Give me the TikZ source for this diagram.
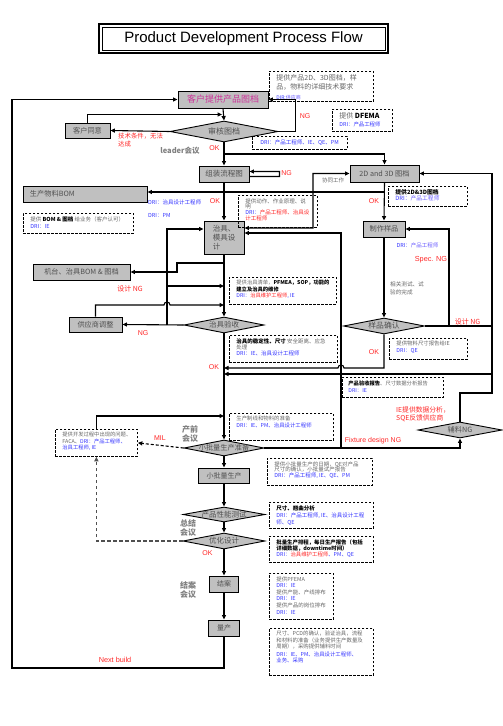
\documentclass[tikz,border=0pt]{standalone}
\usepackage{fontspec}
\setmainfont{Noto Sans CJK SC}
\newfontfamily\arialf{Liberation Sans}
\usetikzlibrary{shapes.geometric,arrows.meta,calc}
\definecolor{boxgray}{HTML}{C0C0C0}
\definecolor{boxtext}{HTML}{505050}
\definecolor{mag}{HTML}{CC3399}
\definecolor{rd}{HTML}{FF2626}
\definecolor{bl}{HTML}{3333FF}
\definecolor{blp}{HTML}{6A5CFF}
\definecolor{gtext}{HTML}{666666}
\definecolor{meet}{HTML}{808080}
\definecolor{dgray}{HTML}{505050}
\newcommand\fsz[2]{\fontsize{#1bp}{#2bp}\selectfont}
\newcommand\xblu[1]{\textcolor{bl}{#1}}
\newcommand\xbld[1]{\textbf{\textcolor{black}{#1}}}
\newcommand\xrd[1]{\textcolor{rd}{#1}}
\newcommand\dtxt[3]{\parbox[b][#2bp][t]{#1bp}{#3}}
\tikzset{
  conn/.style={line width=1.1bp, draw=black},
  arr/.style={conn, -{Triangle[length=4.5bp,width=4bp]}},
  dblarr/.style={conn, {Triangle[length=4.5bp,width=4bp]}-{Triangle[length=4.5bp,width=4bp]}},
  box/.style={draw=black, line width=0.9bp, fill=boxgray, inner sep=0pt, text=boxtext, font=\fsz{7.5}{9}},
  dia/.style={diamond, draw=black, line width=0.9bp, fill=boxgray, inner sep=0pt},
  dlab/.style={text=boxtext, font=\fsz{7.5}{9}, inner sep=0pt},
  dbox/.style={draw=black, dash pattern=on 2.5bp off 1.5bp, line width=0.8bp, inner xsep=7bp, inner ysep=3bp, anchor=north west, text=gtext, font=\fsz{5.5}{6.3}},
  redlbl/.style={text=rd, font=\arialf\fsz{7}{8}, inner sep=0pt},
  redcn/.style={text=rd, font=\fsz{6.8}{8}, inner sep=0pt, align=left},
  meetlbl/.style={text=meet, font=\bfseries\fsz{7.5}{9}, inner sep=0pt, align=center},
  smlbl/.style={inner sep=0pt, font=\fsz{5.5}{6.5}},
}
\begin{document}
\begin{tikzpicture}[x=1bp,y=-1bp]
\useasboundingbox (0,0) rectangle (503,726);

% title
\node[draw, line width=2.5bp, minimum width=289bp, minimum height=29bp, inner sep=0pt] (titleo) at (243.5,38.5) {};
\node[draw, line width=0.8bp, minimum width=283bp, minimum height=23bp, inner sep=0pt, font=\arialf\fsz{15}{18}] (title) at (243.5,38.5) {Product Development Process Flow};

% main boxes
\node[box, minimum width=90bp, minimum height=17bp, text=mag, font=\fsz{9}{10}] (cust) at (223,99.5) {客户提供产品图档};
\node[box, minimum width=45bp, minimum height=15bp, font=\fsz{7.2}{9}] (agree) at (87.5,130.5) {客户同意};
\node[dia, minimum width=108bp, minimum height=21bp, label={[dlab, font=\fsz{8}{9}]center:审核图档}] (shen) at (224,131.5) {};
\node[box, minimum width=50bp, minimum height=16bp] (asm) at (224,174) {组装流程图};
\node[box, minimum width=124bp, minimum height=16bp, text width=110bp, align=left, font=\fsz{7.2}{9}] (bom) at (85,194) {生产物料BOM};
\node[box, minimum width=40bp, minimum height=33bp, align=left, font=\fsz{7.5}{9.3}] (jig) at (224,237.5) {治具、\\模具设\\计};
\node[box, minimum width=69bp, minimum height=17bp, font=\fsz{7.2}{9}] (dd) at (384.5,173.5) {2D and 3D 图档};
\node[box, minimum width=42bp, minimum height=16bp, font=\fsz{7.2}{9}] (mk) at (384,229) {制作样品};
\node[dia, minimum width=81bp, minimum height=16bp, label={[dlab, font=\fsz{7.8}{9}]center:样品确认}] (yp) at (384,326) {};
\node[box, minimum width=97bp, minimum height=16bp, font=\fsz{7.2}{9}] (mach) at (81.5,272) {机台、治具BOM \& 图档};
\node[box, minimum width=53bp, minimum height=15bp, font=\fsz{7.2}{9}] (sup) at (95.5,324.5) {供应商调整};
\node[dia, minimum width=80bp, minimum height=16bp, label={[dlab]center:治具验收}] (acc) at (224,325) {};
\node[dia, minimum width=80bp, minimum height=16bp, label={[dlab, font=\fsz{7.2}{9}]center:小批量生产准备}] (xb) at (224,448) {};
\node[dia, minimum width=84bp, minimum height=16bp, label={[dlab, font=\fsz{7.2}{9}]center:辅料NG}] (fl) at (460,430) {};
\node[box, minimum width=51bp, minimum height=15bp, font=\fsz{7}{9}] (sb) at (224,475.5) {小批量生产};
\node[dia, minimum width=82bp, minimum height=15bp, label={[dlab]center:产品性能测试}] (perf) at (224,514.5) {};
\node[dia, minimum width=82bp, minimum height=16bp, label={[dlab]center:优化设计}] (opt) at (224,541) {};
\node[box, minimum width=29bp, minimum height=16bp, font=\fsz{7}{9}] (close) at (224,584) {结案};
\node[box, minimum width=31bp, minimum height=16bp, font=\fsz{7}{9}] (mass) at (224,628) {量产};

% dashed note boxes
\node[dbox, font=\fsz{7}{9.5}] (n1) at (269,71) {\dtxt{90}{24}{提供产品2D、3D图档，样\\品，物料的详细技术要求\\{\fsz{5}{9.5}\xblu{DIR:}\textcolor{blp}{供应商}}}};
\node[dbox, font=\fsz{7}{8}] (n2) at (332,109) {\dtxt{46}{16}{提供 \xbld{DFEMA}\\{\fsz{5.4}{8}\xblu{DRI：产品工程师}}}};
\node[dbox, inner xsep=8bp] (n3) at (252,136) {\dtxt{79}{7}{\xblu{DRI：产品工程师、IE、QE、PM}}};
\node[dbox, font=\fsz{5.5}{7}] (n4) at (23,213) {\dtxt{96}{14}{提供 \xbld{BOM \& 图档} 给业务（客户认可）\\\xblu{DRI：IE}}};
\node[dbox, font=\fsz{5.5}{5.8}] (n5) at (238,195) {\dtxt{65}{26}{提供动作、作业原理、说\\明\\\xblu{DRI：}\xrd{产品工程师、治具设}\\\xrd{计工程师}}};
\node[dbox, font=\fsz{5.8}{6.5}] (n6) at (388,186) {\dtxt{65}{14}{\xbld{提供2D\&3D图档}\\\xblu{DRI：}\textcolor{blp}{产品工程师}}};
\node[dbox, font=\fsz{5.3}{6.5}] (n7) at (229,277) {\dtxt{93}{21}{提供治具清单，\xbld{PFMEA，SOP，功能的}\\\xbld{建立及治具的维修}\\\xblu{DRI：}\xrd{治具维护工程师}\xblu{, IE}}};
\node[dbox, font=\fsz{5.5}{6.3}] (n8) at (229,335) {\dtxt{94}{21}{\xbld{治具的稳定性、尺寸} 安全距离、应急\\处理\\\xblu{DRI：IE、治具设计工程师}}};
\node[dbox, font=\fsz{5.4}{6.7}] (n9) at (389,338) {\dtxt{64}{15}{提供物料尺寸报告给IE\\\xblu{DRI：QE}}};
\node[dbox, inner xsep=6bp, font=\fsz{5.3}{7.4}] (n10) at (342,377) {\dtxt{89}{14}{\xbld{产品验收报告}、尺寸数据分析报告\\\xblu{DRI：IE}}};
\node[dbox, font=\fsz{5.4}{7}] (n11) at (229,413) {\dtxt{90}{21}{生产制线和物料的准备\\\xblu{DRI：IE、PM、治具设计工程师}}};
\node[dbox, font=\fsz{5.3}{6.5}] (n12) at (55,429) {\dtxt{68}{21}{提供开发过程中出现的问题、\\FACA、\xblu{DRI：产品工程师、}\\\xblu{治具工程师, IE}}};
\node[dbox, font=\fsz{5.5}{5.9}] (n13) at (267,458) {\dtxt{91}{21}{提供小批量生产的日期，QE对产品\\尺寸的确认，小批量试产报告\\\xblu{DRI：产品工程师, IE、QE、PM}}};
\node[dbox, font=\fsz{5.5}{7}] (n14) at (269,502) {\dtxt{90}{20}{\xbld{尺寸、翘曲分析}\\\xblu{DRI：产品工程师, IE、治具设计工程}\\\xblu{师、QE}}};
\node[dbox, font=\fsz{5.4}{6}] (n15) at (269,536) {\dtxt{90}{20}{\xbld{批量生产排程，每日生产报告（包括}\\\xbld{详细数据，downtime时间）}\\\xblu{DRI：}\xrd{治具维护工程师}\xblu{、PM、QE}}};
\node[dbox, font=\fsz{5.5}{6.6}] (n16) at (269,573) {\dtxt{50}{40}{提供PFEMA\\\xblu{DRI：IE}\\提供产能、产线排布\\\xblu{DRI：IE}\\提供产品的岗位排布\\\xblu{DRI：IE}}};
\node[dbox, font=\fsz{5.4}{6.2}] (n17) at (269,628) {\dtxt{90}{41}{尺寸、PCD的确认，验证治具，流程\\和材料的准备（业务提供生产数量及\\周期），采购提供辅料时间\\[1.5bp]\xblu{DRI：IE、PM、治具设计工程师、}\\\xblu{业务、采购}}};

% labels
\node[redlbl] (lng1) at (305,116) {NG};
\node[redcn, anchor=north west, font=\fsz{6.4}{8.3}] (ltech) at (118,133) {技术条件，无法\\达成};
\node[meetlbl] (lleader) at (180,151) {leader会议};
\node[redlbl] (lok1) at (214.5,148) {OK};
\node[redlbl] (lng2) at (286.5,173.5) {NG};
\node[smlbl, anchor=west, text=bl] (ldri1) at (148,202) {DRI：治具设计工程师};
\node[smlbl, anchor=west, text=bl] (ldri2) at (148,215) {DRI：PM};
\node[redlbl] (lok2) at (215,201) {OK};
\node[smlbl, text=gtext] (lxt) at (333,180.5) {协同工作};
\node[redlbl] (lok3) at (374,201) {OK};
\node[smlbl, text=bl] (ldri3) at (417.5,245) {DRI：\textcolor{blp}{产品工程师}};
\node[redlbl, font=\arialf\fsz{7.3}{8}] (lspec) at (431,260) {Spec. NG};
\node[smlbl, text=gtext, anchor=north west, align=left, font=\fsz{5.6}{8}] (ltest) at (390,282) {相关测试、试\\验的完成};
\node[redcn, font=\fsz{7}{8}] (lsng1) at (467.5,321.5) {设计 NG};
\node[redcn, font=\fsz{7}{8}] (lsng2) at (130,289) {设计 NG};
\node[redlbl] (lng3) at (143,333) {NG};
\node[redlbl] (lok4) at (214,367) {OK};
\node[redlbl] (lok5) at (374,352) {OK};
\node[redcn, anchor=north west, font=\fsz{6.8}{8}] (lie) at (396,407) {IE提供数据分析，\\SQE反馈供应商};
\node[redlbl] (lfix) at (373,441) {Fixture design NG};
\node[meetlbl, font=\bfseries\fsz{8}{9}] (lpre) at (190,433.5) {产前\\会议};
\node[redlbl] (lmil) at (160,438.5) {MIL};
\node[meetlbl, font=\bfseries\fsz{8}{9}] (lsum) at (188,528) {总结\\会议};
\node[redlbl] (lok6) at (207.5,553.5) {OK};
\node[meetlbl, font=\bfseries\fsz{8}{9}] (lend) at (188,589.5) {结案\\会议};
\node[redlbl, font=\arialf\fsz{7.3}{8}] (lnext) at (115,660) {Next build};

% junction coordinates
\coordinate (j1) at (224,154);
\coordinate (j2) at (384.5,192);
\coordinate (j3) at (224,263);
\coordinate (j4) at (167,325);
\coordinate (j5) at (167,286);
\coordinate (j6) at (341,448);
\coordinate (j7) at (449,326);
\coordinate (j8) at (492,374);

% connectors - top
\draw[arr] (cust.south) -- (shen.north);
\draw[arr] (agree.north) |- (222,114.5);
\draw[arr] (shen.west) -- (agree.east);
\draw[arr] (shen.east) -- ++(17,0) |- (cust.east);
\draw[arr] (shen.south) -- (asm.north);
\draw[arr] (j1) -| (dd.north);
\draw[arr] ([yshift=-2.5bp]asm.east) -- ++(30,0) -- ++(0,-5) -- ([yshift=2.5bp]asm.east);
\draw[arr] (j2) -- (j2 -| bom.east);
\draw[arr] (asm.south) -- (jig.north);
\draw[dblarr] ([yshift=9.5bp]jig.east) -- (313,228) |- (dd.west);
\draw[arr] (dd.south) -- (mk.north);
\draw[arr] (mk.south) -- (yp.north);
\draw[conn] (yp.east) -- (492,326);
\draw[arr] (j7) |- (mk.east);
\draw[arr] (fl.north) -- (460,393) -- (492,393) |- (dd.east);

% middle
\draw[arr] (jig.south) -- (acc.north);
\draw[arr] (j3) -- (177,263) -- (177,272) -- (mach.east);
\draw[arr] (acc.west) -- (sup.east);
\draw[arr] (j4) |- ([yshift=8.5bp]jig.west);
\draw[arr] (j5) -- (224,286);
\draw[arr] (sup.north) |- (164,305) arc[start angle=180, end angle=0, radius=3bp] -- (224,305);
\draw[arr] (acc.south) -- (xb.north);
\draw[arr] (yp.south) -- (384,368) -- (344,368) arc[start angle=0, end angle=180, radius=3bp] -- (224,368);
\draw[arr] (j8) -- (224,374);
\draw[arr] (xb.east) -- (460,448) -- (fl.south);
\draw[arr] (j6) |- ([yshift=4.5bp]jig.east);

% lower
\draw[arr] (n12.north) |- (224,416);
\draw[arr, dash pattern=on 3bp off 2bp] (xb.west) -- (n12.east);
\draw[line width=1.3bp, draw=dgray, dash pattern=on 3.5bp off 2.5bp, -{Triangle[length=4.5bp,width=4bp]}] (opt.west) -| (n12.south);
\draw[arr] (xb.south) -- (sb.north);
\draw[arr] (sb.south) -- (perf.north);
\draw[arr] (perf.south) -- (opt.north);
\draw[arr] (opt.south) -- (close.north);
\draw[arr] (close.south) -- (mass.north);
\draw[arr] (mass.south) |- (12,668) |- (cust.west);
\end{tikzpicture}
\end{document}
